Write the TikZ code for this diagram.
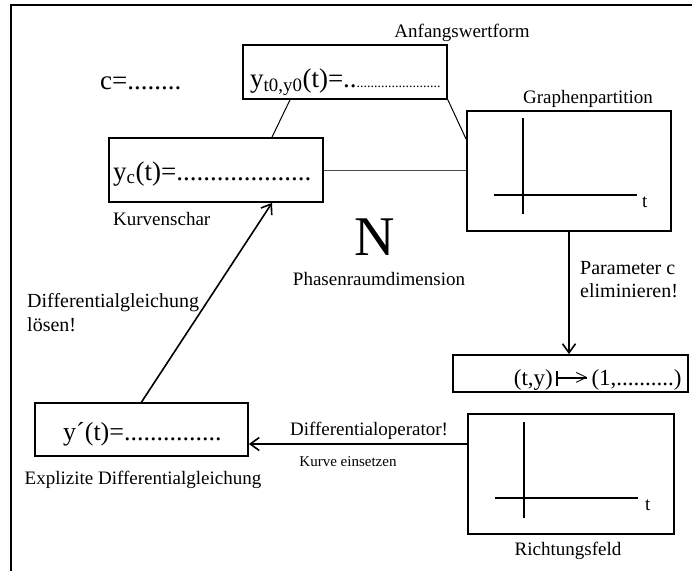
\documentclass[tikz,border=0pt]{standalone}
\usepackage{fontspec}
\setmainfont{Liberation Serif}
\usetikzlibrary{arrows.meta,calc}
\newcommand\myfs[1]{\fontsize{#1}{#1}\selectfont}
\tikzset{
  box/.style={draw, line width=1.8pt, rectangle, inner sep=0pt},
  lbl/.style={inner sep=0pt, font=\myfs{19}},
  frm/.style={inner sep=0pt, font=\myfs{27}},
  thin/.style={line width=1pt},
  conn/.style={line width=1.6pt},
  arr/.style={conn, -{Straight Barb[length=9pt,width=13pt]}},
  axis/.style={line width=1.6pt}
}
\begin{document}
\begin{tikzpicture}[x=1pt,y=-1pt]
\useasboundingbox (0,0) rectangle (692,571);
\fill[white] (0,0) rectangle (692,571);
% outer frame (only left and top visible)
\draw[line width=2pt] (692,5) -- (11,5) -- (11,571);

% Box A
\node[lbl, anchor=base] (lA) at (462,37) {Anfangswertform};
\node[box, minimum width=204pt, minimum height=54pt] (A) at (345,72) {};
\node[frm, anchor=base west] (tA) at (250,87) {y\textsubscript{t0,y0}(t)=..{\myfs{14}........................}};
\node[frm, anchor=base west] (cval) at (100,89) {c=........};

% Box B
\node[box, minimum width=214pt, minimum height=64pt] (B) at (216,170) {};
\node[frm, anchor=base west] (tB) at (113,180) {y\textsubscript{c}(t)=....................};
\node[lbl, anchor=base west] (lB) at (113,225) {Kurvenschar};

% Box C
\node[lbl, anchor=base] (lC) at (588,103) {Graphenpartition};
\node[box, minimum width=204pt, minimum height=120pt] (C) at (569,171) {};
\draw[axis] (523,118) -- (523,214);
\draw[axis] (494,195) -- (637,195);
\node[lbl, anchor=base west] (tC) at (642,207) {t};

% Box D
\node[box, minimum width=235pt, minimum height=37pt] (D) at (570.5,373.5) {};
\node[inner sep=0pt, font=\myfs{23}, anchor=base east] (d1) at (553,385) {(t,y)};
\draw[line width=1.2pt] ($(d1.base east)+(4,1)$) -- ++(0,-15);
\draw[line width=1.2pt] ($(d1.base east)+(4,-7)$) -- ++(30,0);
\node[inner sep=0pt, font=\myfs{23}, anchor=base west] (d2) at ($(d1.base east)+(22,0)$) {>};
\node[inner sep=0pt, font=\myfs{23}, anchor=base west] (d3) at ($(d2.base east)+(3,0)$) {(1,..........)};

% N
\node[inner sep=0pt, font=\myfs{56}] (N) at (375,237) {N};
\node[lbl, anchor=base] (lN) at (379,285) {Phasenraumdimension};

% Box E
\node[box, minimum width=213pt, minimum height=53pt] (E) at (141.5,429.5) {};
\node[frm, font=\myfs{26}, anchor=base west] (tE) at (63,440) {y´(t)=...............};
\node[lbl, anchor=base] (lE) at (143,484) {Explizite Differentialgleichung};

% Box F
\node[box, minimum width=206pt, minimum height=120pt] (F) at (571,474) {};
\draw[axis] (524,422) -- (524,518);
\draw[axis] (495,498) -- (638,498);
\node[lbl, anchor=base west] (tF) at (645,510) {t};
\node[lbl, anchor=base] (lF) at (568,555) {Richtungsfeld};

% connectors
\draw[thin] ([xshift=-55pt]A.south) -- ([xshift=56pt]B.north);
\draw[thin] (A.south east) -- ([yshift=-29pt]C.north west);
\draw[thin, draw=black!70] (B.east) -- (C.west |- B.east);
\draw[arr] (C.south) -- (C.south |- D.north);
\node[lbl, font=\myfs{20}, anchor=base west] (p1) at (580,274) {Parameter c};
\node[lbl, font=\myfs{20}, anchor=base west] (p2) at (580,297) {eliminieren!};

\draw[arr] (E.north) -- ([xshift=56pt]B.south);
\node[lbl, font=\myfs{20}, anchor=base west] (s1) at (27,307) {Differentialgleichung};
\node[lbl, font=\myfs{20}, anchor=base west] (s2) at (27,331) {lösen!};

\draw[arr] ([yshift=30pt]F.west) coordinate (fw) -- (E.east |- fw);
\node[lbl, anchor=base] (o1) at (369,435) {Differentialoperator!};
\node[lbl, font=\myfs{15}, anchor=base] (o2) at (348,466) {Kurve einsetzen};
\end{tikzpicture}
\end{document}
